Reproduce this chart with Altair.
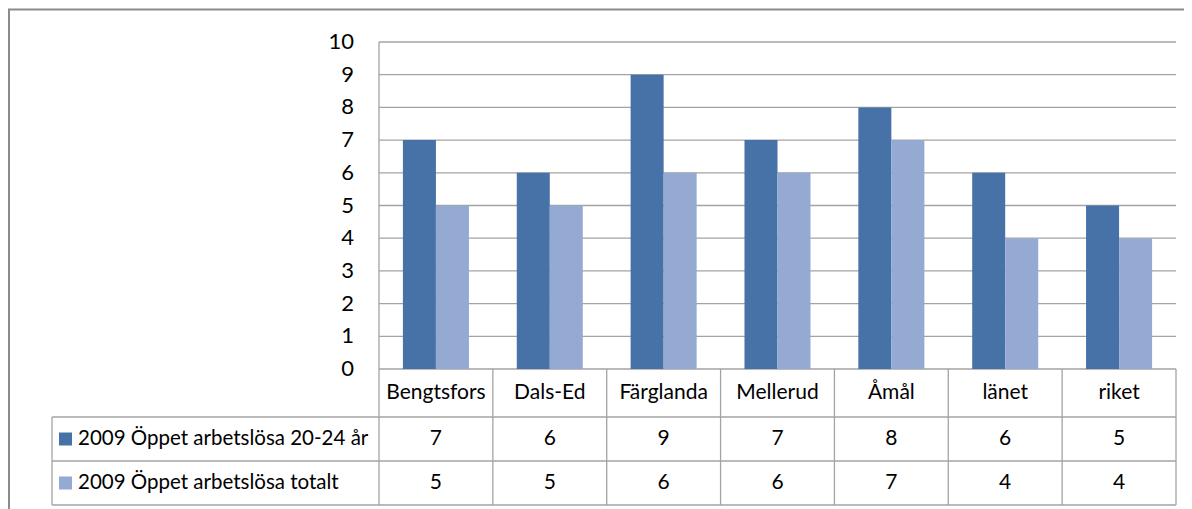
import altair as alt
import pandas as pd

# ---- data ----
categories = ["Bengtsfors", "Dals-Ed", "Färglanda", "Mellerud", "Åmål", "länet", "riket"]
series_names = ["2009 Öppet arbetslösa 20-24 år", "2009 Öppet arbetslösa totalt"]
young = [7, 6, 9, 7, 8, 6, 5]
total = [5, 5, 6, 6, 7, 4, 4]
y_ticks = list(range(0, 11))
colors = ["#4672A8", "#95AAD2"]

# ---- layout (chart units: one category = 1 x unit, value units on y) ----
W, H = 1176, 501
PX_X = 797 / 7.0
X0 = 379 - 8
PX_Y = 327 / 10.0
Y0 = 369 - 8
x_dom = [-X0 / PX_X, (W - X0) / PX_X]
y_dom = [-(H - Y0) / PX_Y, Y0 / PX_Y]

n = len(categories)
hdr_bot = -(417 - 369) / PX_Y
r1_bot = -(461 - 369) / PX_Y
r2_bot = -(505 - 369) / PX_Y
tbl_left = (52 - 379) / PX_X
lab_right = (354 - 379) / PX_X
sq_x = (65.5 - 379) / PX_X
leg_x = (78 - 379) / PX_X
row_mid = [(0 + hdr_bot) / 2, (hdr_bot + r1_bot) / 2, (r1_bot + r2_bot) / 2]

xs = alt.Scale(domain=x_dom, nice=False, zero=False)
ys = alt.Scale(domain=y_dom, nice=False, zero=False)


def X(f):
    return alt.X(f, type="quantitative", scale=xs, axis=None)


def Y(f):
    return alt.Y(f, type="quantitative", scale=ys, axis=None)


GRID = "#a3a3a3"
TXT = "#000000"

# gridlines
grid_df = pd.DataFrame({"y": [t for t in y_ticks if t > 0], "x": 0, "x2": n})
grid = alt.Chart(grid_df).mark_rule(color=GRID, strokeWidth=1.3).encode(
    x=X("x"), x2="x2", y=Y("y"))

# horizontal table lines
hl_df = pd.DataFrame({
    "y": [0, hdr_bot, r1_bot, r2_bot],
    "x": [0, tbl_left, tbl_left, tbl_left],
    "x2": [n, n, n, n]})
hlines = alt.Chart(hl_df).mark_rule(color=GRID, strokeWidth=1.3).encode(
    x=X("x"), x2="x2", y=Y("y"))

# vertical lines (axis + table)
vl_x = [tbl_left] + list(range(n + 1))
vl_y = [hdr_bot] + [y_ticks[-1]] + [0] * n
vl_df = pd.DataFrame({"x": vl_x, "y": vl_y, "y2": [r2_bot] * len(vl_x)})
vlines = alt.Chart(vl_df).mark_rule(color=GRID, strokeWidth=1.3).encode(
    x=X("x"), y=Y("y"), y2="y2")

# bars
rows = []
for i, c in enumerate(categories):
    rows.append({"cat": c, "series": series_names[0], "v": young[i], "x": i + 0.21, "x2": i + 0.5})
    rows.append({"cat": c, "series": series_names[1], "v": total[i], "x": i + 0.5, "x2": i + 0.79})
bar_df = pd.DataFrame(rows)
bar_df["zero"] = 0
color_scale = alt.Scale(domain=series_names, range=colors)
bars = alt.Chart(bar_df).mark_rect().encode(
    x=X("x"), x2="x2", y=Y("v"), y2="zero",
    color=alt.Color("series:N", scale=color_scale, legend=None))

# y tick labels
yl_df = pd.DataFrame({"y": y_ticks, "x": lab_right})
ylabels = alt.Chart(yl_df).mark_text(align="right", baseline="middle", color=TXT, fontSize=22).encode(
    x=X("x"), y=Y("y"), text="y:Q")

# category header
cat_df = pd.DataFrame({"cat": categories, "x": [i + 0.5 for i in range(n)], "y": row_mid[0]})
cats = alt.Chart(cat_df).mark_text(baseline="middle", color=TXT).encode(
    x=X("x"), y=Y("y"), text="cat:N")

# table values
val_rows = []
for i in range(n):
    val_rows.append({"x": i + 0.5, "y": row_mid[1], "t": str(young[i])})
    val_rows.append({"x": i + 0.5, "y": row_mid[2], "t": str(total[i])})
vals = alt.Chart(pd.DataFrame(val_rows)).mark_text(baseline="middle", color=TXT).encode(
    x=X("x"), y=Y("y"), text="t:N")

# legend keys + names in table
leg_df = pd.DataFrame({"series": series_names, "y": row_mid[1:], "sx": sq_x, "lx": leg_x})
keys = alt.Chart(leg_df).mark_square(size=169, opacity=1).encode(
    x=X("sx"), y=Y("y"),
    color=alt.Color("series:N", scale=color_scale, legend=None))
names = alt.Chart(leg_df).mark_text(align="left", baseline="middle", color=TXT, fontSize=20.5).encode(
    x=X("lx"), y=Y("y"), text="series:N")

# outer frame (decoration)
frame_v = alt.Chart(pd.DataFrame({"a": [0]})).mark_rule(color="#8a8a8a", strokeWidth=2).encode(
    x=alt.value(1), y=alt.value(1.5), y2=alt.value(H))
frame_h = alt.Chart(pd.DataFrame({"a": [0]})).mark_rule(color="#8a8a8a", strokeWidth=2).encode(
    x=alt.value(0), x2=alt.value(W), y=alt.value(1.5))

chart = alt.layer(
    grid, hlines, vlines, bars, ylabels, cats, vals, keys, names, frame_v, frame_h
).properties(
    width=W, height=H, padding=0,
    autosize=alt.AutoSizeParams(type="none"),
    background="white",
).configure_view(stroke=None).configure_text(font="Lato", fontSize=21)

chart.save("out.html", embed_options={"renderer": "svg", "actions": False})
